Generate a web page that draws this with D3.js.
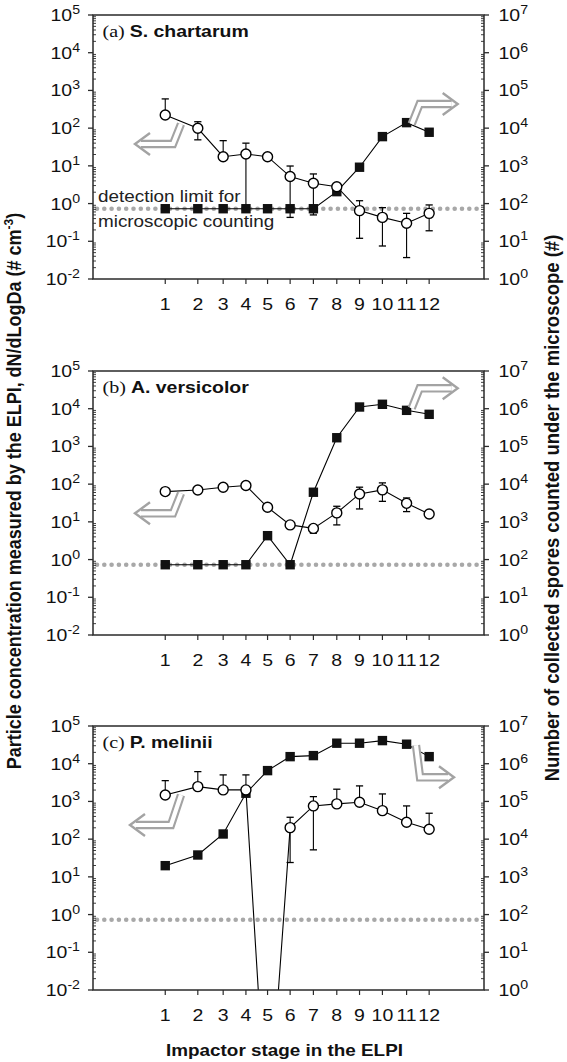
<!DOCTYPE html>
<html><head><meta charset="utf-8">
<script src="https://cdn.jsdelivr.net/npm/d3@7"></script>
<style>body{margin:0;background:#fff}svg{display:block}</style>
</head><body><svg id="chart" width="567" height="1062"></svg>
<script>
// ---------------- DATA ----------------
const stageLabels = ["1","2","3","4","5","6","7","8","9","10","11","12"];
// geometric mean aerodynamic diameter of each ELPI stage (um), log x axis
const stageDa = [0.0435, 0.0829, 0.137, 0.215, 0.330, 0.516, 0.818, 1.30, 2.04, 3.21, 5.18, 8.10];
const detectionLimit = 0.73; // dN/dLogDa, left axis
const leftTickExps = [-2,-1,0,1,2,3,4,5];
const rightTickExps = [0,1,2,3,4,5,6,7];
const panelLetters = ["(a)","(b)","(c)"];
const speciesNames = ["S. chartarum","A. versicolor","P. melinii"];

// (a) S. chartarum
const elpiA    = [224, 99, 17.5, 20.7, 17.5, 5.2, 3.45, 2.8, 0.65, 0.43, 0.30, 0.55];
const elpiAUp  = [596, 148, 46.6, 40, null, 9.9, 6.1, null, 1.19, 0.78, 0.55, 0.92];
const elpiALo  = [null, 49, null, 0.75, null, 0.43, 0.5, null, 0.12, 0.075, 0.037, 0.19];
const sporesA  = [73, 73, 73, 73, 73, 73, 73, 207, 920, 5960, 14000, 7780];

// (b) A. versicolor
const elpiB    = [63.5, 70, 82.8, 91.8, 24.3, 8.3, 6.7, 17.3, 55, 70.5, 31, 16.2];
const elpiBUp  = [null, null, null, null, null, null, 7.6, 25.9, 83, 108, 43, null];
const elpiBLo  = [null, null, null, null, null, null, 5.0, 8.3, 22, 35, 18.7, null];
const sporesB  = [73, 73, 73, 73, 430, 73, 6100, 170000, 1110000, 1310000, 906000, 710000];

// (c) P. melinii
const elpiC    = [1486, 2470, 2020, 2020, 1e-6, 202, 760, 860, 953, 570, 280, 183];
const elpiCUp  = [3560, 6170, 5050, 5050, null, 380, 1340, 2110, 2580, 1580, 760, 486];
const elpiCLo  = [null, null, null, null, null, 24, 52, null, null, null, null, null];
const sporesC  = [1980, 3800, 13700, 165000, 656000, 1540000, 1640000, 3500000, 3500000, 4100000, 3290000, 1540000];

// ---------------- LAYOUT ----------------
const plotLeft = 93, plotRight = 484, plotH = 264;
const panelTops = [15, 371, 726];
const SX = 1.18; // horizontal glyph stretch of the reference
const sansFont = "'Liberation Sans', Arial, sans-serif";
const serifFont = "'Liberation Serif', 'Times New Roman', serif";
const arrowGray = "#a3a3a3";
// annotation arrows: tip position relative to panel origin, flip, shaft geometry
const arrowSpecs = [
  [{tx:42, ty:129, sx:1, sy:1, c:38, dx:8, dy:20}, {tx:364.7, ty:89, sx:-1, sy:-1, c:38, dx:8, dy:20}],
  [{tx:42, ty:142.3, sx:1, sy:1, c:38, dx:8, dy:20}, {tx:364.7, ty:17.3, sx:-1, sy:-1, c:38, dx:8, dy:20}],
  [{tx:37, ty:99, sx:1, sy:1, c:41, dx:10, dy:30}, {tx:361, ty:51.3, sx:-1, sy:1, c:34, dx:4, dy:32}]
];

const panels = [
  {elpi: elpiA, up: elpiAUp, lo: elpiALo, spores: sporesA},
  {elpi: elpiB, up: elpiBUp, lo: elpiBLo, spores: sporesB},
  {elpi: elpiC, up: elpiCUp, lo: elpiCLo, spores: sporesC}
];

const svg = d3.select("#chart");
const x = d3.scaleLog().domain([0.0104, 24]).range([plotLeft, plotRight]);

function powLabel(sel, exp, fs, sfs) {
  sel.append("tspan").text("10").attr("font-size", fs);
  sel.append("tspan").text(String(exp)).attr("font-size", sfs).attr("dy", -7);
}

panels.forEach((p, pi) => {
  const top = panelTops[pi], bottom = top + plotH;
  const yL = d3.scaleLog().domain([1e-2, 1e5]).range([bottom, top]);
  const yR = d3.scaleLog().domain([1, 1e7]).range([bottom, top]);
  const g = svg.append("g");

  const clipId = "clip" + pi;
  svg.append("clipPath").attr("id", clipId).append("rect")
    .attr("x", plotLeft).attr("y", top).attr("width", plotRight - plotLeft).attr("height", plotH);

  // detection limit dotted line
  g.append("line")
    .attr("x1", plotLeft + 4).attr("x2", plotRight - 1)
    .attr("y1", yL(detectionLimit)).attr("y2", yL(detectionLimit))
    .attr("stroke", "#a8a8a8").attr("stroke-width", 4.6)
    .attr("stroke-linecap", "round").attr("stroke-dasharray", "0,7.3");

  const data = stageDa.map((d, i) => ({d, v: p.elpi[i], up: p.up[i], lo: p.lo[i], s: p.spores[i]}));
  const cg = g.append("g").attr("clip-path", `url(#${clipId})`);

  // lines
  cg.append("path").datum(data)
    .attr("d", d3.line().x(q => x(q.d)).y(q => yR(q.s)))
    .attr("fill", "none").attr("stroke", "#000").attr("stroke-width", 1.1);
  cg.append("path").datum(data)
    .attr("d", d3.line().x(q => x(q.d)).y(q => yL(q.v)))
    .attr("fill", "none").attr("stroke", "#000").attr("stroke-width", 1.1);

  // error bars
  const capW = 3.6;
  data.forEach(q => {
    const xx = x(q.d);
    const y0 = q.lo != null ? yL(q.lo) : yL(q.v);
    const y1 = q.up != null ? yL(q.up) : yL(q.v);
    if (q.lo == null && q.up == null) return;
    cg.append("line").attr("x1", xx).attr("x2", xx).attr("y1", y0).attr("y2", y1)
      .attr("stroke", "#000").attr("stroke-width", 1.1);
    [q.lo, q.up].forEach(e => {
      if (e == null) return;
      cg.append("line").attr("x1", xx - capW).attr("x2", xx + capW)
        .attr("y1", yL(e)).attr("y2", yL(e)).attr("stroke", "#000").attr("stroke-width", 1.3);
    });
  });

  // squares (spores, right axis)
  const sq = 9.4;
  cg.selectAll("rect.sq").data(data).join("rect").attr("class", "sq")
    .attr("x", q => x(q.d) - sq / 2).attr("y", q => yR(q.s) - sq / 2)
    .attr("width", sq).attr("height", sq).attr("fill", "#111");

  // circles (ELPI, left axis)
  cg.selectAll("circle.el").data(data.filter(q => q.v >= 1e-2)).join("circle").attr("class", "el")
    .attr("cx", q => x(q.d)).attr("cy", q => yL(q.v)).attr("r", 5)
    .attr("fill", "#fff").attr("stroke", "#000").attr("stroke-width", 1.4);

  // frame
  const frameCol = "#2a2a2a";
  g.append("rect").attr("x", plotLeft).attr("y", top).attr("width", plotRight - plotLeft)
    .attr("height", plotH).attr("fill", "none").attr("stroke", frameCol).attr("stroke-width", 1.5);

  // left axis ticks
  for (let e = -2; e <= 5; e++) {
    const yy = yL(Math.pow(10, e));
    g.append("line").attr("x1", plotLeft - 5).attr("x2", plotLeft).attr("y1", yy).attr("y2", yy)
      .attr("stroke", frameCol).attr("stroke-width", 1.3);
    if (e < 5) for (let m = 2; m <= 9; m++) {
      const ym = yL(m * Math.pow(10, e));
      g.append("line").attr("x1", plotLeft).attr("x2", plotLeft + 3).attr("y1", ym).attr("y2", ym)
        .attr("stroke", frameCol).attr("stroke-width", 0.9);
    }
  }
  for (let e = 0; e <= 7; e++) {
    const yy = yR(Math.pow(10, e));
    g.append("line").attr("x1", plotRight).attr("x2", plotRight + 5).attr("y1", yy).attr("y2", yy)
      .attr("stroke", frameCol).attr("stroke-width", 1.3);
    if (e < 7) for (let m = 2; m <= 9; m++) {
      const ym = yR(m * Math.pow(10, e));
      g.append("line").attr("x1", plotRight - 3).attr("x2", plotRight).attr("y1", ym).attr("y2", ym)
        .attr("stroke", frameCol).attr("stroke-width", 0.9);
    }
  }
  // bottom ticks
  stageDa.forEach(d => {
    g.append("line").attr("x1", x(d)).attr("x2", x(d)).attr("y1", bottom).attr("y2", bottom + 5)
      .attr("stroke", frameCol).attr("stroke-width", 1.2);
  });

  // tick labels
  leftTickExps.forEach(e => {
    const t = g.append("text").attr("font-family", sansFont).attr("fill", "#111")
      .attr("text-anchor", "end")
      .attr("transform", `translate(80,${yL(Math.pow(10, e)) + 6}) scale(${SX},1)`);
    powLabel(t, e, 16.5, 12);
  });
  rightTickExps.forEach(e => {
    const t = g.append("text").attr("font-family", sansFont).attr("fill", "#111")
      .attr("text-anchor", "start")
      .attr("transform", `translate(498.5,${yR(Math.pow(10, e)) + 6}) scale(${SX},1)`);
    powLabel(t, e, 16.5, 12);
  });
  stageLabels.forEach((s, i) => {
    g.append("text").attr("font-family", sansFont).attr("font-size", 16.5).attr("fill", "#111")
      .attr("text-anchor", "middle")
      .attr("transform", `translate(${x(stageDa[i])},${bottom + 31}) scale(${SX},1)`)
      .text(s);
  });

  // panel label
  const lt = g.append("text").attr("transform", `translate(${plotLeft + 9.5},${top + 22}) scale(${SX},1)`)
    .attr("fill", "#111");
  lt.append("tspan").attr("font-family", serifFont).attr("font-size", 17).text(panelLetters[pi] + " ");
  lt.append("tspan").attr("font-family", sansFont).attr("font-weight", "bold").attr("font-size", 16.5)
    .text(speciesNames[pi]);

  // arrows
  arrowSpecs[pi].forEach(a => {
    const ag = g.append("g")
      .attr("transform", `translate(${plotLeft + a.tx},${top + a.ty}) scale(${a.sx},${a.sy})`);
    const shaft = `M6,0 L${a.c},0 L${a.c + a.dx},${-a.dy}`;
    ag.append("path").attr("d", shaft).attr("fill", "none").attr("stroke", arrowGray)
      .attr("stroke-width", 8.4).attr("stroke-linejoin", "miter");
    ag.append("path").attr("d", shaft).attr("fill", "none").attr("stroke", "#fff")
      .attr("stroke-width", 4.2).attr("stroke-linejoin", "miter");
    ag.append("path").attr("d", "M15,-11 L0,0 L15,11").attr("fill", "none").attr("stroke", arrowGray)
      .attr("stroke-width", 2.4).attr("stroke-linejoin", "miter");
  });

  if (pi === 0) {
    [["detection limit for", 201.7], ["microscopic counting", 226.5]].forEach(([t, yy]) => {
      g.append("text").attr("font-family", sansFont).attr("font-size", 16).attr("fill", "#222")
        .attr("transform", `translate(98,${yy}) scale(${SX},1)`).text(t);
    });
  }
});

// axis titles
const lt = svg.append("text").attr("font-family", sansFont).attr("font-weight", "bold")
  .attr("font-size", 18).attr("fill", "#111").attr("text-anchor", "middle")
  .attr("transform", "translate(21,491) scale(1.1,1) rotate(-90)");
lt.append("tspan").text("Particle concentration measured by the ELPI, dN/dLogDa (# cm");
lt.append("tspan").text("-3").attr("font-size", 12).attr("dy", -7);
lt.append("tspan").text(")").attr("dy", 7);

svg.append("text").attr("font-family", sansFont).attr("font-weight", "bold")
  .attr("font-size", 18.5).attr("fill", "#111").attr("text-anchor", "middle")
  .attr("transform", "translate(559,508) scale(1.1,1) rotate(-90)")
  .text("Number of collected spores counted under the microscope (#)");

svg.append("text").attr("font-family", sansFont).attr("font-weight", "bold")
  .attr("font-size", 16).attr("fill", "#111").attr("text-anchor", "middle")
  .attr("transform", `translate(284.5,1056) scale(${SX},1)`)
  .text("Impactor stage in the ELPI");
</script></body></html>
